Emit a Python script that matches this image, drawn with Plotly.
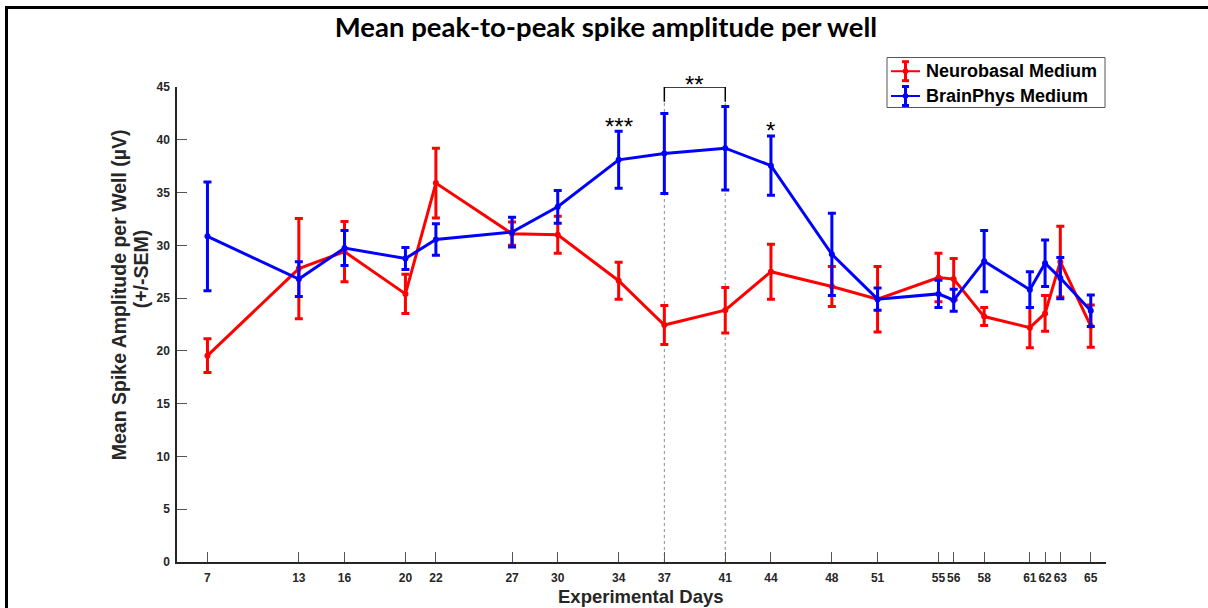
import plotly.graph_objects as go

# ---------------- data ----------------
days = [7, 13, 16, 20, 22, 27, 30, 34, 37, 41, 44, 48, 51, 55, 56, 58, 61, 62, 63, 65]
neuro_mean = [19.55, 27.8, 29.4, 25.4, 35.9, 31.1, 31.0, 26.65, 22.45, 23.85,
              27.5, 26.1, 24.9, 26.95, 26.8, 23.25, 22.2, 23.55, 28.45, 22.35]
neuro_sem = [1.6, 4.75, 2.85, 1.85, 3.3, 1.1, 1.75, 1.75, 1.85, 2.15,
             2.6, 1.9, 3.1, 2.3, 1.95, 0.85, 1.9, 1.7, 3.35, 2.0]
brain_mean = [30.85, 26.8, 29.75, 28.75, 30.55, 31.25, 33.65, 38.1, 38.7, 39.2,
              37.55, 29.15, 24.9, 25.4, 24.8, 28.5, 25.8, 28.3, 26.9, 23.8]
brain_sem = [5.15, 1.65, 1.65, 1.05, 1.5, 1.4, 1.55, 2.7, 3.8, 3.95,
             2.8, 3.9, 1.05, 1.3, 1.05, 2.9, 1.7, 2.2, 1.95, 1.5]

series_names = ["Neurobasal Medium", "BrainPhys Medium"]
series_colors = ["#FF0000", "#0000FF"]

sig_days = [34, 44]
sig_labels = ["***", "*"]
sig_y = [41.3, 40.9]
bracket_days = [37, 41]
bracket_label = "**"
bracket_low, bracket_high = 43.6, 45.0

y_ticks = [0, 5, 10, 15, 20, 25, 30, 35, 40, 45]

title_text = "Mean peak-to-peak spike amplitude per well"
xlabel = "Experimental Days"
ylabel1 = "Mean Spike Amplitude per Well (µV)"
ylabel2 = "(+/-SEM)"

# ---------------- layout geometry (pixels) ----------------
W, H = 1208, 608
L, R, T, B = 177, 1106, 86.5, 562


def px_x(px):
    return (px - L) / (R - L)


def px_y(py):
    return (B - py) / (B - T)


FONT = "Liberation Sans, Arial, sans-serif"
DARK = "#262626"

fig = go.Figure()

for mean, sem, name, col in [(neuro_mean, neuro_sem, series_names[0], series_colors[0]),
                             (brain_mean, brain_sem, series_names[1], series_colors[1])]:
    fig.add_trace(go.Scatter(
        x=days, y=mean, name=name, mode="lines+markers", showlegend=False,
        line=dict(color=col, width=3),
        marker=dict(color=col, size=6),
        error_y=dict(type="data", array=sem, visible=True, color=col, thickness=3, width=4),
    ))

# dotted guide lines and bracket
for d in bracket_days:
    fig.add_shape(type="line", xref="x", yref="y", x0=d, x1=d, y0=0, y1=bracket_low,
                  line=dict(color="#8c8c8c", width=1, dash="dot"), layer="below")
fig.add_trace(go.Scatter(
    x=[bracket_days[0], bracket_days[0], bracket_days[1], bracket_days[1]],
    y=[bracket_low, bracket_high, bracket_high, bracket_low],
    mode="lines", line=dict(color="black", width=1.5), showlegend=False,
    hoverinfo="skip", cliponaxis=False,
))

annotations = []
for d, lab, yv in zip(sig_days, sig_labels, sig_y):
    annotations.append(dict(x=d, y=yv, xref="x", yref="y", text=lab, showarrow=False,
                            font=dict(family=FONT, size=24, color="black"),
                            xanchor="center", yanchor="middle"))
annotations.append(dict(x=sum(bracket_days) / 2, y=bracket_high, xref="x", yref="y",
                        text=bracket_label, showarrow=False,
                        font=dict(family=FONT, size=24, color="black"),
                        xanchor="center", yanchor="bottom", yshift=-13))

# axis titles
annotations.append(dict(x=px_x(641), y=px_y(597), xref="paper", yref="paper", text="<b>" + xlabel + "</b>",
                        showarrow=False, font=dict(family=FONT, size=18.5, color=DARK),
                        xanchor="center", yanchor="middle"))
annotations.append(dict(x=px_x(119), y=px_y(295), xref="paper", yref="paper", text="<b>" + ylabel1 + "</b>",
                        showarrow=False, textangle=-90, font=dict(family=FONT, size=19.5, color=DARK),
                        xanchor="center", yanchor="middle"))
annotations.append(dict(x=px_x(141), y=px_y(269), xref="paper", yref="paper", text="<b>" + ylabel2 + "</b>",
                        showarrow=False, textangle=-90, font=dict(family=FONT, size=19.5, color=DARK),
                        xanchor="center", yanchor="middle"))

# figure frame (left and top border)
shapes = [
    dict(type="line", xref="paper", yref="paper", x0=px_x(6.5), x1=px_x(6.5), y0=px_y(W), y1=px_y(7),
         line=dict(color="black", width=3)),
    dict(type="line", xref="paper", yref="paper", x0=px_x(5), x1=px_x(W + 5), y0=px_y(7), y1=px_y(7),
         line=dict(color="black", width=3)),
]

# manual legend (MATLAB style, with error-bar glyph)
shapes.append(dict(type="rect", xref="paper", yref="paper",
                   x0=px_x(887), x1=px_x(1105), y0=px_y(57), y1=px_y(107),
                   line=dict(color="#555555", width=1), fillcolor="white"))
legend_rows = [70.7, 95.5]
for name, col, ry in zip(series_names, series_colors, legend_rows):
    shapes.append(dict(type="line", xref="paper", yref="paper", x0=px_x(891), x1=px_x(920),
                       y0=px_y(ry), y1=px_y(ry), line=dict(color=col, width=2)))
    shapes.append(dict(type="line", xref="paper", yref="paper", x0=px_x(905.5), x1=px_x(905.5),
                       y0=px_y(ry - 9.5), y1=px_y(ry + 9.5), line=dict(color=col, width=3)))
    for cy in (ry - 9.5, ry + 9.5):
        shapes.append(dict(type="line", xref="paper", yref="paper", x0=px_x(902), x1=px_x(909),
                           y0=px_y(cy), y1=px_y(cy), line=dict(color=col, width=3)))
    shapes.append(dict(type="circle", xref="paper", yref="paper", x0=px_x(903), x1=px_x(908),
                       y0=px_y(ry + 2.5), y1=px_y(ry - 2.5), line=dict(color=col, width=1), fillcolor=col))
    annotations.append(dict(x=px_x(924), y=px_y(ry), xref="paper", yref="paper", text="<b>" + name + "</b>",
                            showarrow=False, font=dict(family=FONT, size=18, color="black"),
                            xanchor="left", yanchor="middle"))

for s in shapes:
    fig.add_shape(**s)

fig.update_layout(
    width=W, height=H,
    margin=dict(l=L, r=W - R, t=T, b=H - B, pad=0),
    paper_bgcolor="white", plot_bgcolor="white",
    title=dict(text=title_text, x=606 / W, xanchor="center",
               y=1 - 27 / H, yanchor="middle", yref="container", xref="container",
               font=dict(family="Lato, sans-serif", size=27.5, color="black", weight="bold")),
    showlegend=False,
    annotations=annotations,
)

fig.update_xaxes(range=[5, 66], tickvals=days, ticktext=[str(d) for d in days], tickangle=0,
                 ticks="inside", ticklen=10, tickcolor="#555555", tickwidth=1,
                 showline=True, linecolor=DARK, linewidth=1.5,
                 showgrid=False, zeroline=False, ticklabelstandoff=4,
                 tickfont=dict(family=FONT, size=12, color=DARK, weight="bold"))
fig.update_yaxes(range=[0, 45], tickvals=y_ticks,
                 ticks="inside", ticklen=10, tickcolor="#555555", tickwidth=1,
                 showline=True, linecolor=DARK, linewidth=1.5,
                 showgrid=False, zeroline=False, ticklabelstandoff=3,
                 tickfont=dict(family=FONT, size=12, color=DARK, weight="bold"))

fig.write_html("out.html")
